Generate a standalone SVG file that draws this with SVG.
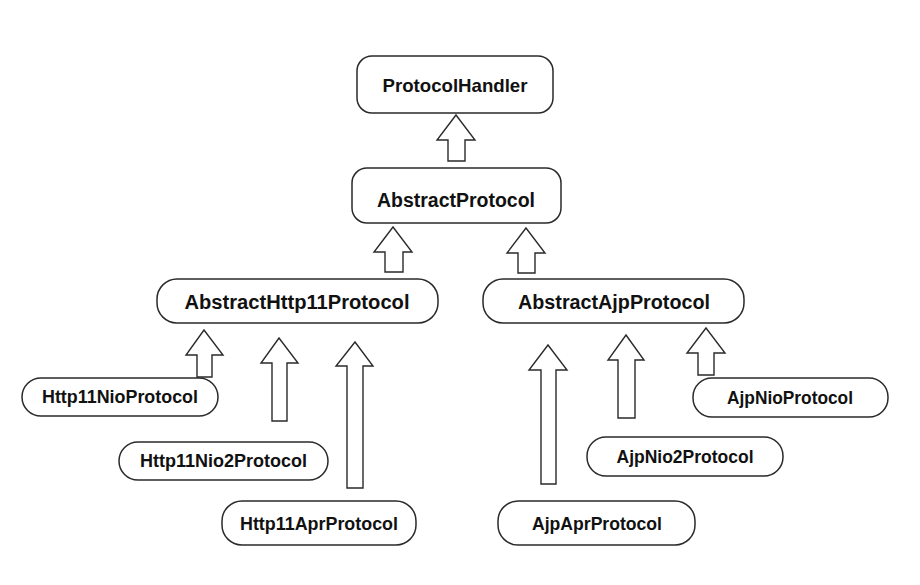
<svg xmlns="http://www.w3.org/2000/svg" width="920" height="585" viewBox="0 0 920 585">
<style>
.box{fill:#fff;stroke:#2a2a2a;stroke-width:1.5}
.lbl{font-family:"Liberation Sans",Arial,Helvetica,sans-serif;font-weight:bold;fill:#111;text-anchor:middle}
.arr{fill:#fff;stroke:#2a2a2a;stroke-width:1.4;stroke-linejoin:miter}
</style>
<rect width="920" height="585" fill="#fff"/>
<g id="connectors">
<polygon class="arr" points="456,115 475,140 465,140 465,161 448,161 448,140 437,140"/>
<polygon class="arr" points="393,227 412,252 403,252 403,272 385,272 385,252 374,252"/>
<polygon class="arr" points="526,228 545,253 535,253 535,273 518,273 518,253 507,253"/>
<polygon class="arr" points="204,330 223,355 212,355 212,377 197,377 197,355 186,355"/>
<polygon class="arr" points="279,338 298,363 287,363 287,421 272,421 272,363 261,363"/>
<polygon class="arr" points="355,342 373,366 363,366 363,488 347,488 347,366 336,366"/>
<polygon class="arr" points="548,345 567,370 556,370 556,484 541,484 541,370 529,370"/>
<polygon class="arr" points="626,335 644,360 635,360 635,418 618,418 618,360 608,360"/>
<polygon class="arr" points="706,328 725,353 714,353 714,375 698,375 698,353 687,353"/>
</g>
<g id="ProtocolHandler">
<rect class="box" x="357" y="56" width="196" height="57" rx="15"/>
<text class="lbl" x="455" y="92" font-size="18.5" textLength="145" lengthAdjust="spacingAndGlyphs">ProtocolHandler</text>
</g>
<g id="AbstractProtocol">
<rect class="box" x="352" y="168" width="209" height="55" rx="15"/>
<text class="lbl" x="456" y="207" font-size="19.5" textLength="158" lengthAdjust="spacingAndGlyphs">AbstractProtocol</text>
</g>
<g id="AbstractHttp11Protocol">
<rect class="box" x="157" y="279" width="281" height="44" rx="20"/>
<text class="lbl" x="297" y="309" font-size="19.5" textLength="225" lengthAdjust="spacingAndGlyphs">AbstractHttp11Protocol</text>
</g>
<g id="AbstractAjpProtocol">
<rect class="box" x="483" y="279" width="261" height="44" rx="20"/>
<text class="lbl" x="614" y="309" font-size="19.5" textLength="192" lengthAdjust="spacingAndGlyphs">AbstractAjpProtocol</text>
</g>
<g id="Http11NioProtocol">
<rect class="box" x="22" y="378" width="196" height="38" rx="19"/>
<text class="lbl" x="120" y="403" font-size="17.5" textLength="156" lengthAdjust="spacingAndGlyphs">Http11NioProtocol</text>
</g>
<g id="Http11Nio2Protocol">
<rect class="box" x="119" y="442" width="209" height="38" rx="19"/>
<text class="lbl" x="223.5" y="467" font-size="17.5" textLength="167" lengthAdjust="spacingAndGlyphs">Http11Nio2Protocol</text>
</g>
<g id="Http11AprProtocol">
<rect class="box" x="222" y="501" width="194" height="44" rx="20"/>
<text class="lbl" x="319" y="530" font-size="17.5" textLength="158" lengthAdjust="spacingAndGlyphs">Http11AprProtocol</text>
</g>
<g id="AjpAprProtocol">
<rect class="box" x="498" y="501" width="197" height="44" rx="20"/>
<text class="lbl" x="597" y="530" font-size="17.5" textLength="130" lengthAdjust="spacingAndGlyphs">AjpAprProtocol</text>
</g>
<g id="AjpNio2Protocol">
<rect class="box" x="587" y="437" width="196" height="39" rx="19"/>
<text class="lbl" x="685" y="463" font-size="17.5" textLength="137" lengthAdjust="spacingAndGlyphs">AjpNio2Protocol</text>
</g>
<g id="AjpNioProtocol">
<rect class="box" x="693" y="378" width="195" height="39" rx="19"/>
<text class="lbl" x="790" y="404" font-size="17.5" textLength="126" lengthAdjust="spacingAndGlyphs">AjpNioProtocol</text>
</g>
</svg>
